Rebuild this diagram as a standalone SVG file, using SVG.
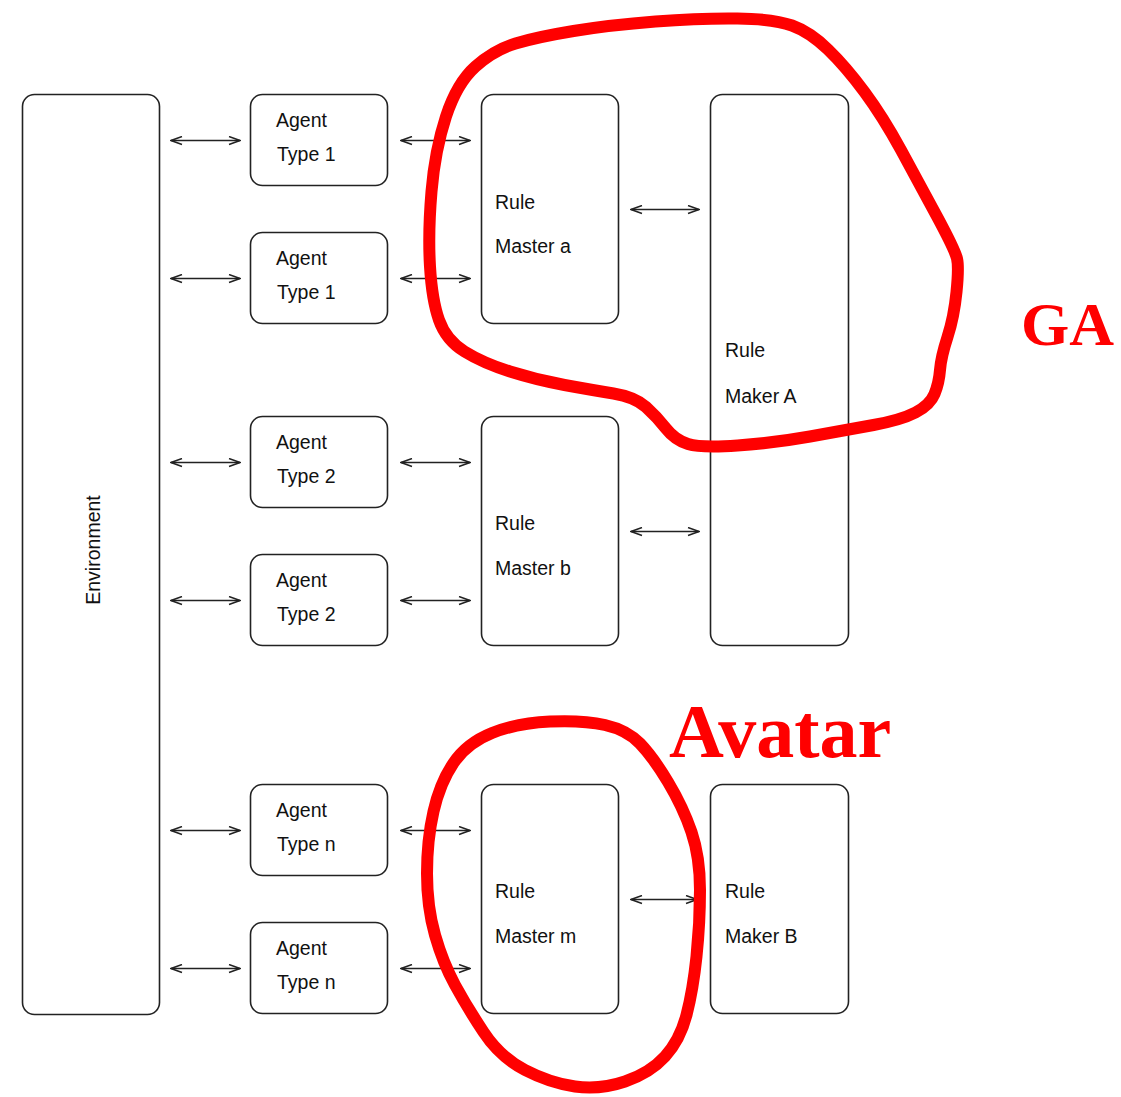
<svg xmlns="http://www.w3.org/2000/svg" width="1121" height="1097" viewBox="0 0 1121 1097">
<style>
.box{fill:#fff;stroke:#222;stroke-width:1.6}
.lbl{font-family:"Liberation Sans",Arial,sans-serif;font-size:19.5px;fill:#111}
.conn{stroke:#222;stroke-width:1.5;fill:none;marker-start:url(#ah);marker-end:url(#ah)}
.loop{fill:none;stroke:#ff0000;stroke-width:12;stroke-linejoin:round}
.red{font-family:"Liberation Serif","Times New Roman",serif;font-weight:bold;fill:#ff0000}
</style>
<defs>
<marker id="ah" viewBox="-12 -5 13 10" refX="0" refY="0" markerWidth="13" markerHeight="10" markerUnits="userSpaceOnUse" orient="auto-start-reverse">
<path d="M-11,-4 L0,0 L-11,4" fill="none" stroke="#222" stroke-width="1.5"/>
</marker>
</defs>
<rect width="1121" height="1097" fill="#fff"/>

<g id="environment">
<rect class="box" x="22.5" y="94.5" width="137" height="920" rx="12"/>
<text class="lbl" transform="translate(100,550) rotate(-90)" text-anchor="middle">Environment</text>
</g>

<g id="agent1a"><rect class="box" x="250.5" y="94.5" width="137" height="91" rx="12"/>
<text class="lbl" x="276" y="127">Agent</text><text class="lbl" x="277" y="161">Type 1</text></g>
<g id="agent1b"><rect class="box" x="250.5" y="232.5" width="137" height="91" rx="12"/>
<text class="lbl" x="276" y="265">Agent</text><text class="lbl" x="277" y="299">Type 1</text></g>
<g id="agent2a"><rect class="box" x="250.5" y="416.5" width="137" height="91" rx="12"/>
<text class="lbl" x="276" y="449">Agent</text><text class="lbl" x="277" y="483">Type 2</text></g>
<g id="agent2b"><rect class="box" x="250.5" y="554.5" width="137" height="91" rx="12"/>
<text class="lbl" x="276" y="587">Agent</text><text class="lbl" x="277" y="621">Type 2</text></g>
<g id="agentna"><rect class="box" x="250.5" y="784.5" width="137" height="91" rx="12"/>
<text class="lbl" x="276" y="817">Agent</text><text class="lbl" x="277" y="851">Type n</text></g>
<g id="agentnb"><rect class="box" x="250.5" y="922.5" width="137" height="91" rx="12"/>
<text class="lbl" x="276" y="955">Agent</text><text class="lbl" x="277" y="989">Type n</text></g>

<g id="rulemaster-a"><rect class="box" x="481.5" y="94.5" width="137" height="229" rx="12"/>
<text class="lbl" x="495" y="209">Rule</text><text class="lbl" x="495" y="253">Master a</text></g>
<g id="rulemaster-b"><rect class="box" x="481.5" y="416.5" width="137" height="229" rx="12"/>
<text class="lbl" x="495" y="530">Rule</text><text class="lbl" x="495" y="575">Master b</text></g>
<g id="rulemaster-m"><rect class="box" x="481.5" y="784.5" width="137" height="229" rx="12"/>
<text class="lbl" x="495" y="898">Rule</text><text class="lbl" x="495" y="943">Master m</text></g>

<g id="rulemaker-A"><rect class="box" x="710.5" y="94.5" width="138" height="551" rx="12"/>
<text class="lbl" x="725" y="357">Rule</text><text class="lbl" x="725" y="403">Maker A</text></g>
<g id="rulemaker-B"><rect class="box" x="710.5" y="784.5" width="138" height="229" rx="12"/>
<text class="lbl" x="725" y="898">Rule</text><text class="lbl" x="725" y="943">Maker B</text></g>

<g id="connectors">
<line class="conn" x1="171" y1="140.5" x2="240" y2="140.5"/>
<line class="conn" x1="171" y1="278.5" x2="240" y2="278.5"/>
<line class="conn" x1="171" y1="462.5" x2="240" y2="462.5"/>
<line class="conn" x1="171" y1="600.5" x2="240" y2="600.5"/>
<line class="conn" x1="171" y1="830.5" x2="240" y2="830.5"/>
<line class="conn" x1="171" y1="968.5" x2="240" y2="968.5"/>
<line class="conn" x1="401" y1="140.5" x2="470" y2="140.5"/>
<line class="conn" x1="401" y1="278.5" x2="470" y2="278.5"/>
<line class="conn" x1="401" y1="462.5" x2="470" y2="462.5"/>
<line class="conn" x1="401" y1="600.5" x2="470" y2="600.5"/>
<line class="conn" x1="401" y1="830.5" x2="470" y2="830.5"/>
<line class="conn" x1="401" y1="968.5" x2="470" y2="968.5"/>
<line class="conn" x1="631" y1="209.5" x2="699" y2="209.5"/>
<line class="conn" x1="631" y1="531.5" x2="699" y2="531.5"/>
<line class="conn" x1="631" y1="899.5" x2="697" y2="899.5"/>
</g>

<g id="ga-loop">
<path class="loop" d="M655.5,21.5 Q701,18 737.5,18.5 Q774,19 792,25.5 Q810,32 828,49.5 Q846,67 864.5,92 Q883,117 901,150 Q919,183 937,216.5 Q955,250 957,258.5 Q959,267 956.5,292 Q954,317 947.5,337 Q941,357 940,370 Q939,383 934.5,394 Q930,405 915.5,412.5 Q901,420 873.5,425 Q846,430 810,436.5 Q774,443 737.5,445.5 Q701,448 688,444 Q675,440 666,428.5 Q657,417 646,407 Q635,397 613.5,393.5 Q592,390 564.5,385 Q537,380 510,371.5 Q483,363 464.5,351.5 Q446,340 439,320 Q432,300 430,266.5 Q428,233 431.5,191.5 Q435,150 446,116.5 Q457,83 475.5,66.5 Q494,50 515.5,43.5 Q537,37 573.5,31 Q610,25 655.5,21.5 Z"/>
<text class="red" x="1021" y="345" font-size="62">GA</text>
</g>

<g id="avatar-loop">
<path class="loop" d="M550,721.5 Q583,720 605,725 Q627,730 640,743.5 Q653,757 668,782 Q683,807 691.5,832 Q700,857 700,890 Q700,923 696.5,956.5 Q693,990 686.5,1015 Q680,1040 665,1056.5 Q650,1073 625,1081.5 Q600,1090 575,1086.5 Q550,1083 525,1070 Q500,1057 483.5,1032 Q467,1007 455,985 Q443,963 435,935 Q427,907 427,873.5 Q427,840 433.5,811.5 Q440,783 453.5,763 Q467,743 492,733 Q517,723 550,721.5 Z"/>
<text class="red" x="669" y="757" font-size="76">Avatar</text>
</g>
</svg>
